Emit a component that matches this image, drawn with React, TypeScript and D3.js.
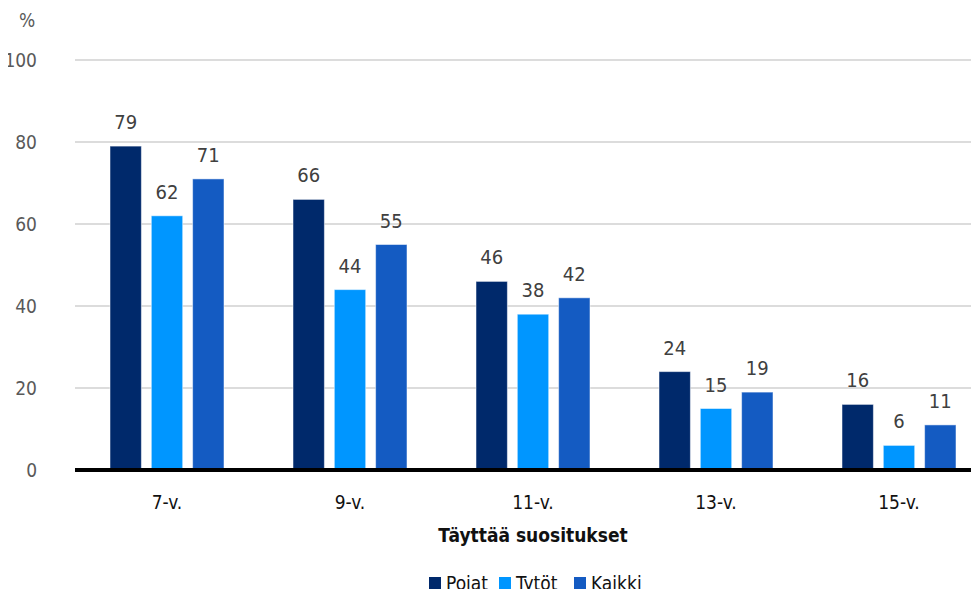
import { useEffect, useRef } from 'react';
import * as d3 from 'd3';

const categories = ['7-v.', '9-v.', '11-v.', '13-v.', '15-v.'];
const seriesNames = ['Pojat', 'Tytöt', 'Kaikki'];
const pojat = [79, 66, 46, 24, 16];
const tytot = [62, 44, 38, 15, 6];
const kaikki = [71, 55, 42, 19, 11];
const yTicks = [0, 20, 40, 60, 80, 100];
const colors = ['#00296b', '#0096ff', '#145bc2'];

const FONT = "'DejaVu Sans Condensed', 'Liberation Sans Narrow', sans-serif";

export default function App() {
  const svgRef = useRef<SVGSVGElement>(null);

  useEffect(() => {
    const width = 979;
    const height = 593;
    const svg = d3.select(svgRef.current)
      .attr('width', width)
      .attr('height', height)
      .style('font-family', FONT);

    svg.selectAll('*').remove();

    const series = [pojat, tytot, kaikki];

    const x = d3.scaleBand()
      .domain(categories)
      .range([75.5, 990.5]);

    const inner = d3.scaleBand()
      .domain(seriesNames)
      .range([-57, 57])
      .paddingInner(0.24);

    const y = d3.scaleLinear()
      .domain([0, 100])
      .range([470, 60]);

    // gridlines
    svg.append('g')
      .selectAll('line')
      .data(yTicks.filter(t => t > 0))
      .enter()
      .append('line')
      .attr('x1', 75)
      .attr('x2', width)
      .attr('y1', d => y(d))
      .attr('y2', d => y(d))
      .attr('stroke', '#dcdcdc')
      .attr('stroke-width', 2);

    // y tick labels
    svg.append('g')
      .selectAll('text')
      .data(yTicks)
      .enter()
      .append('text')
      .attr('x', 37)
      .attr('y', d => y(d))
      .attr('dy', '0.35em')
      .attr('text-anchor', 'end')
      .attr('fill', '#595959')
      .style('font-size', '19px')
      .text(d => d);

    svg.append('text')
      .attr('x', 27)
      .attr('y', 20)
      .attr('dy', '0.35em')
      .attr('text-anchor', 'middle')
      .attr('fill', '#595959')
      .style('font-size', '19px')
      .text('%');

    // bars
    const groups = svg.append('g')
      .selectAll('g')
      .data(categories)
      .enter()
      .append('g')
      .attr('transform', d => `translate(${x(d)! + x.bandwidth() / 2},0)`);

    seriesNames.forEach((name, si) => {
      groups.append('rect')
        .attr('x', inner(name)!)
        .attr('y', (_, i) => y(series[si][i]))
        .attr('width', inner.bandwidth())
        .attr('height', (_, i) => y(0) - y(series[si][i]))
        .attr('fill', colors[si])
        .attr('stroke', '#ffffff')
        .attr('stroke-opacity', 0.5)
        .attr('stroke-width', 1);

      groups.append('text')
        .attr('x', inner(name)! + inner.bandwidth() / 2)
        .attr('y', (_, i) => y(series[si][i]) - 17)
        .attr('text-anchor', 'middle')
        .attr('fill', '#404040')
        .style('font-size', '20px')
        .text((_, i) => series[si][i]);
    });

    // baseline
    svg.append('line')
      .attr('x1', 75)
      .attr('x2', width)
      .attr('y1', y(0))
      .attr('y2', y(0))
      .attr('stroke', '#000')
      .attr('stroke-width', 4);

    // category labels
    svg.append('g')
      .selectAll('text')
      .data(categories)
      .enter()
      .append('text')
      .attr('x', d => x(d)! + x.bandwidth() / 2)
      .attr('y', 502)
      .attr('dy', '0.35em')
      .attr('text-anchor', 'middle')
      .attr('fill', '#111')
      .style('font-size', '19px')
      .text(d => d);

    svg.append('text')
      .attr('x', 533)
      .attr('y', 535)
      .attr('dy', '0.35em')
      .attr('text-anchor', 'middle')
      .attr('fill', '#111')
      .style('font-size', '19px')
      .style('font-weight', 'bold')
      .text('Täyttää suositukset');

    // legend
    const legendX = [429, 499, 574];
    const legend = svg.append('g')
      .selectAll('g')
      .data(seriesNames)
      .enter()
      .append('g')
      .attr('transform', (_, i) => `translate(${legendX[i]},583)`);

    legend.append('rect')
      .attr('x', 0)
      .attr('y', -6)
      .attr('width', 12)
      .attr('height', 12)
      .attr('fill', (_, i) => colors[i]);

    legend.append('text')
      .attr('x', 17)
      .attr('y', 0)
      .attr('dy', '0.35em')
      .attr('fill', '#111')
      .style('font-size', '19px')
      .text(d => d);
  }, []);

  return (
    <div style={{ margin: -8 }}>
      <svg ref={svgRef}></svg>
    </div>
  );
}
